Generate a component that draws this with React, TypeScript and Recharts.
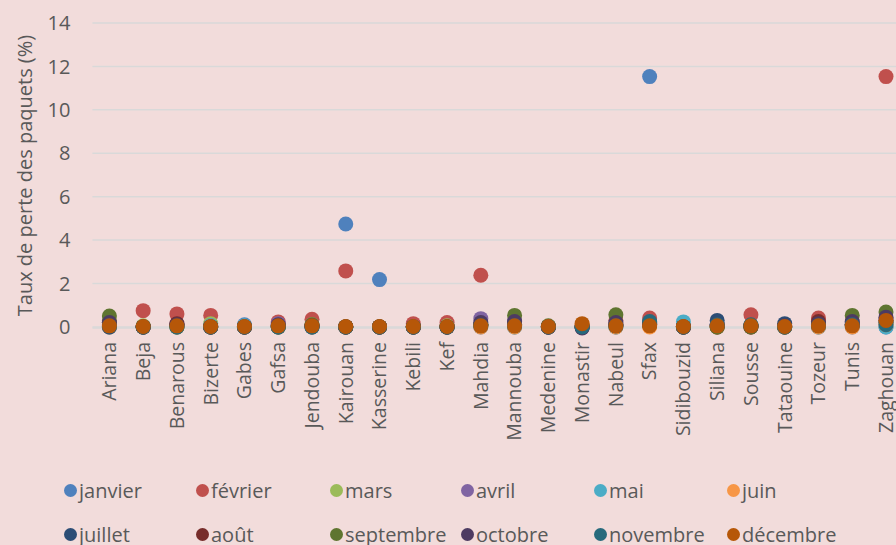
import { CartesianGrid, ComposedChart, Scatter, XAxis, YAxis } from "recharts";

const cities = [
  "Ariana", "Beja", "Benarous", "Bizerte", "Gabes", "Gafsa", "Jendouba", "Kairouan",
  "Kasserine", "Kebili", "Kef", "Mahdia", "Mannouba", "Medenine", "Monastir", "Nabeul",
  "Sfax", "Sidibouzid", "Siliana", "Sousse", "Tataouine", "Tozeur", "Tunis", "Zaghouan",
];

const months = [
  "janvier", "février", "mars", "avril", "mai", "juin",
  "juillet", "août", "septembre", "octobre", "novembre", "décembre",
];

const colors = [
  "#4F81BD", "#C0504D", "#9BBB59", "#8064A2", "#4BACC6", "#F79646",
  "#2C4D75", "#772C2A", "#5F7530", "#4D3B62", "#276A7C", "#B65708",
];

// one array per month, in the order of `cities`
const janvier = [0, 0, 0, 0, 0.1, 0, 0, 4.74, 2.18, 0, 0, 0, 0, 0, 0, 0, 11.53, 0, 0, 0, 0, 0, 0, 0];
const fevrier = [0.1, 0.75, 0.6, 0.53, 0, 0.23, 0.35, 2.58, 0, 0.15, 0.2, 2.38, 0.1, 0, 0.05, 0.3, 0.41, 0, 0.05, 0.56, 0.05, 0.41, 0.1, 11.53];
const mars = [0.3, 0.05, 0.05, 0.15, 0, 0.05, 0.1, 0, 0, 0, 0.05, 0.1, 0.1, 0, 0, 0.1, 0.1, 0, 0, 0.05, 0, 0.1, 0.1, 0.2];
const avril = [0.1, 0, 0.1, 0.05, 0, 0.15, 0.05, 0, 0, 0, 0, 0.38, 0.3, 0, 0, 0.1, 0.1, 0, 0.1, 0.05, 0, 0.1, 0.2, 0.4];
const mai = [0, 0, 0, 0.05, 0.05, 0.05, 0, 0, 0, 0, 0, 0.05, 0, 0, 0, 0, 0.15, 0.23, 0.05, 0.05, 0, 0, 0.05, 0];
const juin = [0, 0, 0, 0, 0, 0, 0, 0, 0, 0, 0, 0, 0, 0, 0.1, 0, 0, 0, 0, 0, 0, 0, 0, 0.1];
const juillet = [0, 0, 0.1, 0, 0, 0, 0, 0, 0, 0, 0, 0.1, 0.1, 0, 0, 0.05, 0.2, 0, 0.3, 0.05, 0.15, 0.1, 0.1, 0.2];
const aout = [0.2, 0, 0.15, 0, 0, 0.05, 0.05, 0, 0, 0, 0, 0.1, 0.1, 0, 0, 0.1, 0.1, 0, 0, 0, 0, 0.25, 0.1, 0.3];
const septembre = [0.5, 0, 0, 0, 0, 0, 0.1, 0, 0, 0, 0, 0.1, 0.53, 0.05, 0, 0.56, 0.1, 0, 0, 0, 0, 0.1, 0.53, 0.69];
const octobre = [0.2, 0, 0.1, 0, 0, 0.1, 0.05, 0, 0, 0, 0, 0.2, 0.25, 0, -0.05, 0.2, 0.15, 0, 0.1, 0.05, 0.05, 0.15, 0.25, 0.45];
const novembre = [0.05, 0, 0, 0, 0, 0, 0, 0, 0, 0, 0, 0.05, 0.05, 0, 0, 0.05, 0.25, 0, 0.1, 0.1, 0, 0.05, 0.1, 0.1];
const decembre = [0.05, 0.02, 0.05, 0.02, 0.02, 0.05, 0.05, 0.02, 0.02, 0.02, 0.02, 0.05, 0.05, 0.02, 0.15, 0.05, 0.05, 0.02, 0.05, 0.05, 0.02, 0.05, 0.05, 0.3];

const yTicks = [0, 2, 4, 6, 8, 10, 12, 14];

const seriesValues = [
  janvier, fevrier, mars, avril, mai, juin,
  juillet, aout, septembre, octobre, novembre, decembre,
];

const rows = cities.map((city, i) => {
  const row: Record<string, string | number> = { city };
  months.forEach((m, j) => {
    row[m] = seriesValues[j][i];
  });
  return row;
});

const FONT = "'Open Sans', sans-serif";
const TEXT = "#595959";

function CityTick(props: any) {
  const { x, payload } = props;
  return (
    <text
      transform={`translate(${x}, 342) rotate(-90)`}
      textAnchor="end"
      dy="0.35em"
      fill={TEXT}
      fontSize={19.5}
      fontFamily={FONT}
    >
      {payload.value}
    </text>
  );
}

function Legend() {
  const colX = [70, 202, 336, 467, 600, 733];
  return (
    <>
      {months.map((m, i) => {
        const row = Math.floor(i / 6);
        const col = i % 6;
        return (
          <div
            key={m}
            style={{
              position: "absolute",
              left: colX[col] - 6,
              top: 490 + row * 44 - 14,
              height: 28,
              display: "flex",
              alignItems: "center",
              fontFamily: FONT,
              fontSize: 20,
              color: TEXT,
              whiteSpace: "nowrap",
            }}
          >
            <span
              style={{
                width: 13,
                height: 13,
                borderRadius: "50%",
                background: colors[i],
                marginRight: 2,
                display: "inline-block",
              }}
            />
            {m}
          </div>
        );
      })}
    </>
  );
}

export default function App() {
  return (
    <div
      style={{
        position: "fixed",
        left: 0,
        top: 0,
        width: 896,
        height: 545,
        overflow: "hidden",
        background: "#F2DCDB",
      }}
    >
      <ComposedChart
        width={906}
        height={545}
        data={rows}
        margin={{ top: 23, right: 3, left: 0, bottom: 0 }}
      >
        <CartesianGrid vertical={false} stroke="#D9D9D9" strokeWidth={1.5} />
        <XAxis
          dataKey="city"
          type="category"
          height={217}
          axisLine={false}
          tickLine={false}
          interval={0}
          padding={{ left: 17, right: 17 }}
          tick={<CityTick />}
        />
        <YAxis
          type="number"
          domain={[0, 14]}
          ticks={yTicks}
          width={92.4}
          axisLine={false}
          tickLine={false}
          tickSize={0}
          tickMargin={22}
          tick={{ fill: TEXT, fontSize: 20, fontFamily: FONT }}
          label={{
            value: "Taux de perte des paquets (%)",
            angle: -90,
            position: "insideLeft",
            dx: 20,
            dy: 0,
            style: { textAnchor: "middle", fill: TEXT, fontSize: 20, fontFamily: FONT },
          }}
        />
        {months.map((m, i) => (
          <Scatter
            key={m}
            dataKey={m}
            fill={colors[i]}
            isAnimationActive={false}
            shape={(p: any) => <circle cx={p.cx} cy={p.cy} r={7.5} fill={colors[i]} />}
          />
        ))}
      </ComposedChart>
      <Legend />
    </div>
  );
}
